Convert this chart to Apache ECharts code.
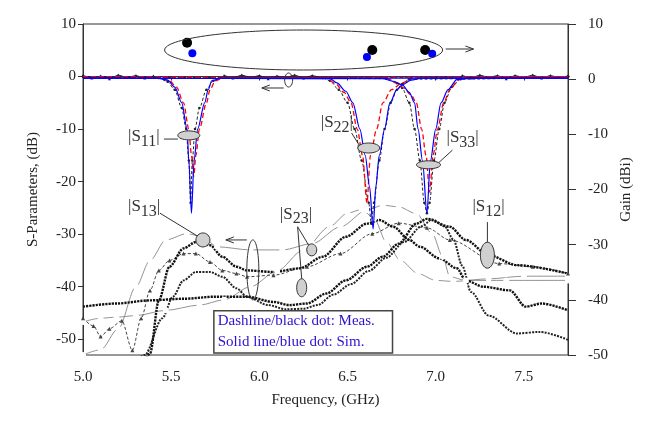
<!DOCTYPE html>
<html>
<head>
<meta charset="utf-8">
<script src="https://cdn.jsdelivr.net/npm/echarts@6/dist/echarts.min.js"></script>
<style>
  html, body { margin: 0; padding: 0; background: #fff; }
  #chart { width: 650px; height: 426px; }
</style>
</head>
<body>
<div id="chart"></div>
<script>
const FONT = 'Liberation Serif';

// axis ticks
const freqTicks = [5.0, 5.5, 6.0, 6.5, 7.0, 7.5];
const sTicks = [-50, -40, -30, -20, -10, 0, 10];

// reflection, simulated (blue solid)
const s11Sim = [[5.0,-0.3],[5.42,-0.3],[5.48,-0.7],[5.52,-2],[5.56,-5],[5.59,-10],[5.60,-16],[5.615,-26],[5.63,-16],[5.65,-10],[5.69,-5],[5.71,-2.5],[5.73,-0.8],[5.78,-0.3],[7.75,-0.3]];
const s22Sim = [[5.0,-0.3],[6.40,-0.4],[6.44,-1.2],[6.49,-2.8],[6.53,-5],[6.57,-10],[6.60,-15],[6.625,-21],[6.645,-29],[6.66,-21],[6.68,-15],[6.71,-10],[6.74,-5],[6.78,-2.5],[6.81,-1.6],[6.86,-0.7],[6.92,-0.3],[7.75,-0.3]];
const s33Sim = [[5.0,-0.3],[6.70,-0.4],[6.76,-0.9],[6.81,-1.6],[6.85,-3],[6.88,-5],[6.90,-10],[6.925,-16],[6.95,-26],[6.97,-16],[7.0,-10],[7.03,-5],[7.07,-2.5],[7.12,-0.6],[7.2,-0.3],[7.75,-0.3]];

// reflection, measured (red dashed)
const s11Meas = [[5.0,0],[5.44,-0.3],[5.49,-0.8],[5.53,-2],[5.57,-5],[5.60,-10],[5.615,-15],[5.628,-19],[5.64,-15],[5.66,-10],[5.70,-5],[5.72,-2.5],[5.75,-0.8],[5.8,-0.2],[7.75,0]];
const s22Meas = [[5.0,0],[6.38,-0.3],[6.43,-1.3],[6.48,-3],[6.52,-5],[6.555,-10],[6.585,-15],[6.61,-24],[6.63,-15],[6.665,-10],[6.7,-5],[6.75,-2.5],[6.81,-1.2],[6.87,-0.3],[7.75,0]];
const s33Meas = [[5.0,0],[6.72,-0.3],[6.78,-1.2],[6.82,-2.2],[6.86,-3.5],[6.89,-5],[6.92,-10],[6.945,-15],[6.965,-22],[6.985,-15],[7.01,-10],[7.045,-5],[7.08,-2.5],[7.13,-0.6],[7.2,0],[7.75,0]];

// reflection, measured (black dash-dot)
const s11Meas2 = [[5.0,0],[5.43,-0.3],[5.48,-1],[5.52,-2.5],[5.56,-6],[5.585,-10],[5.6,-16],[5.61,-24],[5.62,-16],[5.635,-10],[5.66,-6],[5.7,-2.5],[5.74,-0.8],[5.8,-0.2],[7.75,0]];
const s22Meas2 = [[5.0,0],[6.36,-0.3],[6.40,-0.8],[6.45,-2.5],[6.50,-5],[6.54,-10],[6.58,-16],[6.62,-24],[6.635,-28],[6.65,-24],[6.68,-16],[6.71,-10],[6.745,-5],[6.78,-2.5],[6.81,-1.4],[6.85,-0.5],[7.75,0]];
const s33Meas2 = [[5.0,0],[6.72,-0.4],[6.78,-1.3],[6.81,-2.2],[6.85,-5],[6.88,-10],[6.91,-16],[6.935,-24],[6.95,-26],[6.965,-24],[6.99,-16],[7.02,-10],[7.05,-5],[7.09,-2],[7.14,-0.5],[7.75,0]];

const baseNoise = [[5.00,0.2],[5.05,-0.3],[5.10,0.1],[5.15,-0.4],[5.20,0.3],[5.25,-0.2],[5.30,0.2],[5.35,-0.3],[5.40,0.1],[null,null],
  [5.80,0.2],[5.85,-0.3],[5.90,0.3],[5.95,-0.2],[6.00,0.2],[6.05,-0.4],[6.10,0.1],[6.15,-0.2],[6.20,0.3],[6.25,-0.3],[6.30,0.2],[6.35,-0.2],[null,null],
  [7.15,0.2],[7.20,-0.3],[7.25,0.3],[7.30,-0.2],[7.35,0.2],[7.40,-0.4],[7.45,0.2],[7.50,-0.2],[7.55,0.3],[7.60,-0.3],[7.65,0.2],[7.70,-0.2],[7.75,0.1]];

// transmission curves
const s13A = [[5.30,-60],[5.38,-52.7],[5.43,-42.6],[5.49,-36.2],[5.57,-32.7],[5.64,-31.5],[5.72,-32.1],[5.79,-34.3],[5.87,-36.2],[5.93,-36.9],[6.08,-37.2],[6.23,-36.5],[6.36,-34.3],[6.49,-30.5],[6.61,-28.0],[6.68,-27.3],[6.76,-28.6],[6.85,-31.1],[6.91,-32.4],[7.02,-34.6],[7.12,-36.5],[7.17,-38.8],[7.27,-40.0],[7.42,-40.7],[7.51,-43.8],[7.60,-43.2],[7.75,-44.5]];
const s12A = [[5.0,-43.8],[5.19,-43.2],[5.38,-42.6],[5.57,-42.3],[5.75,-41.9],[5.93,-41.9],[6.08,-42.9],[6.17,-43.5],[6.27,-43.2],[6.38,-41.3],[6.49,-38.8],[6.61,-36.2],[6.70,-34.3],[6.79,-31.8],[6.89,-28.0],[6.95,-27.1],[7.08,-28.6],[7.17,-31.1],[7.30,-34.0],[7.46,-35.9],[7.75,-37.5]];
const s23A = [[5.2,-60],[5.35,-53],[5.45,-46],[5.51,-41.9],[5.57,-38.8],[5.64,-37.2],[5.72,-37.2],[5.79,-38.1],[5.87,-40.3],[5.93,-41.9],[6.05,-43.5],[6.15,-44.3],[6.25,-44.2],[6.33,-43.5],[6.42,-41.5],[6.52,-39.5],[6.62,-37],[6.72,-34.5],[6.82,-31.5],[6.92,-28.5],[6.98,-27.2],[7.05,-28.5],[7.1,-31],[7.15,-36],[7.2,-41],[7.3,-45.5],[7.46,-48.9],[7.59,-48.6],[7.75,-50.1]];
const s23B = [[5.0,-46],[5.06,-47.5],[5.1,-49.5],[5.15,-48],[5.22,-46.5],[5.28,-52.1],[5.33,-46],[5.38,-40.7],[5.43,-36.9],[5.49,-35.0],[5.57,-33.7],[5.64,-33.7],[5.72,-35.3],[5.79,-36.9],[5.87,-37.5],[5.93,-38.1],[6.08,-37.8],[6.27,-36.2],[6.46,-33.7],[6.64,-29.9],[6.79,-27.9],[6.95,-28.8],[7.08,-31.1],[7.36,-35.6],[7.55,-36.2],[7.75,-37.5]];
const s13B = [[5.0,-53],[5.1,-52],[5.2,-48],[5.3,-40],[5.38,-35],[5.47,-31.1],[5.59,-29.9],[5.68,-30.5],[5.76,-32.4],[5.95,-33],[6.13,-33],[6.3,-31.8],[6.46,-28.6],[6.61,-25.4],[6.7,-24.5],[6.79,-24.8],[6.89,-26.1],[6.98,-29.9],[7.04,-34.3],[7.08,-38.1],[7.17,-38.8],[7.4,-38.8],[7.75,-38.8]];
const s12B = [[5.0,-46.7],[5.1,-46],[5.19,-45.8],[5.3,-45.5],[5.47,-44.5],[5.66,-43.5],[5.8,-42.5],[5.95,-40],[6.1,-37],[6.25,-33],[6.4,-28.5],[6.5,-26],[6.58,-25.3],[6.65,-27],[6.72,-31.5],[6.8,-35],[6.9,-37.5],[7.0,-38.8],[7.1,-39],[7.3,-38.5],[7.5,-38],[7.75,-38]];

// peak gain (dBi), right axis
const gainMeas = [[5.59,6.6],[6.64,5.3],[6.94,5.3]];
const gainSim = [[5.62,4.7],[6.61,4.0],[6.98,4.6]];

const chart = echarts.init(document.getElementById('chart'));

function line(data, color, width, type, extra) {
  return Object.assign({
    type: 'line',
    data: data,
    smooth: 0.3,
    smoothMonotone: 'x',
    showSymbol: false,
    symbol: 'none',
    connectNulls: false,
    lineStyle: { color: color, width: width, type: type },
    itemStyle: { color: color },
    z: 3
  }, extra || {});
}

const axisText = { fontFamily: FONT, fontSize: 15, color: '#222' };

const option = {
  animation: false,
  backgroundColor: '#fff',
  grid: { left: 83, right: 82, top: 24, bottom: 71, show: true, borderColor: '#333', borderWidth: 1 },
  xAxis: {
    type: 'value', min: 5.0, max: 7.75,
    name: 'Frequency, (GHz)', nameLocation: 'middle', nameGap: 38,
    nameTextStyle: axisText,
    axisLine: { lineStyle: { color: '#333', width: 1 } },
    axisTick: { customValues: freqTicks, length: 4, lineStyle: { color: '#333' } },
    axisLabel: Object.assign({ customValues: freqTicks, margin: 15, formatter: v => v.toFixed(1) }, axisText),
    splitLine: { show: false }
  },
  yAxis: [{
    type: 'value', min: -53, max: 10, position: 'left',
    name: 'S-Parameters, (dB)', nameLocation: 'middle', nameGap: 42, nameRotate: 90,
    nameTextStyle: axisText,
    axisLine: { show: true, lineStyle: { color: '#333', width: 1 } },
    axisTick: { show: true, customValues: sTicks, length: 5, lineStyle: { color: '#333' } },
    axisLabel: Object.assign({ customValues: sTicks, margin: 7 }, axisText),
    splitLine: { show: false }
  }, {
    type: 'value', min: -50, max: 10, interval: 10, position: 'right',
    name: 'Gain (dBi)', nameLocation: 'middle', nameGap: 40, nameRotate: 90,
    nameTextStyle: axisText,
    axisLine: { show: true, lineStyle: { color: '#333', width: 1 } },
    axisTick: { show: true, length: 8, lineStyle: { color: '#333' } },
    axisLabel: Object.assign({ margin: 20 }, axisText),
    splitLine: { show: false }
  }],
  series: [
    line(s13B, '#777', 0.8, 'solid', { showSymbol: true, symbol: 'emptyCircle', symbolSize: 4, itemStyle: { color: '#fff', borderColor: '#222', borderWidth: 0.8 } }),
    line(s12B, '#777', 0.8, 'solid', { showSymbol: true, symbol: 'emptyCircle', symbolSize: 4, itemStyle: { color: '#fff', borderColor: '#222', borderWidth: 0.8 } }),
    line(s23B, '#444', 1, [3, 2], { showSymbol: true, symbol: 'triangle', symbolSize: 4 }),
    line(s23A, '#222', 2, [2, 1.2]),
    line(s12A, '#111', 2.4, [2.2, 1]),
    line(s13A, '#111', 2.4, [2.2, 1]),
    line(baseNoise, '#222', 1, 'solid', { smooth: false, showSymbol: true, symbol: 'triangle', symbolSize: 3 }),
    line(s11Meas2, '#222', 1, [3, 2], { showSymbol: true, symbol: 'circle', symbolSize: 2.5, z: 4 }),
    line(s22Meas2, '#222', 1, [3, 2], { showSymbol: true, symbol: 'circle', symbolSize: 2.5, z: 4 }),
    line(s33Meas2, '#222', 1, [3, 2], { showSymbol: true, symbol: 'circle', symbolSize: 2.5, z: 4 }),
    line(s11Meas, '#ff0000', 1.3, [5, 3], { z: 5 }),
    line(s22Meas, '#ff0000', 1.3, [5, 3], { z: 5 }),
    line(s33Meas, '#ff0000', 1.3, [5, 3], { z: 5 }),
    line(s11Sim, '#0000ff', 1.2, 'solid', { z: 6 }),
    line(s22Sim, '#0000ff', 1.2, 'solid', { z: 6 }),
    line(s33Sim, '#0000ff', 1.2, 'solid', { z: 6 }),
    { type: 'scatter', yAxisIndex: 1, data: gainMeas, symbol: 'circle', symbolSize: 10, itemStyle: { color: '#000', opacity: 1 }, z: 7 },
    { type: 'scatter', yAxisIndex: 1, data: gainSim, symbol: 'circle', symbolSize: 8, itemStyle: { color: '#0000ff', opacity: 1 }, z: 8 }
  ]
};

chart.setOption(option);

// annotations, anchored in data coordinates (GHz, dB)
const P = (f, db) => chart.convertToPixel({ xAxisIndex: 0, yAxisIndex: 0 }, [f, db]);
const ctx = document.createElement('canvas').getContext('2d');
function tw(t, size) { ctx.font = size + 'px "' + FONT + '"'; return ctx.measureText(t).width; }

const ink = '#333';
const g = [];
function ellipse(f, db, rx, ry, fill) {
  const p = P(f, db);
  g.push({ type: 'ellipse', shape: { cx: p[0], cy: p[1], rx: rx, ry: ry }, style: { fill: fill || 'none', stroke: ink, lineWidth: 1 }, z: 20 });
}
function seg(f1, d1, f2, d2) {
  const a = P(f1, d1), b = P(f2, d2);
  g.push({ type: 'line', shape: { x1: a[0], y1: a[1], x2: b[0], y2: b[1] }, style: { stroke: ink, lineWidth: 1 }, z: 20 });
}
function arrow(f1, d1, f2, d2) {
  const a = P(f1, d1), b = P(f2, d2);
  const dir = Math.sign(b[0] - a[0]);
  g.push({ type: 'line', shape: { x1: a[0], y1: a[1], x2: b[0], y2: b[1] }, style: { stroke: ink, lineWidth: 1 }, z: 20 });
  g.push({ type: 'polyline', shape: { points: [[b[0] - dir * 8, b[1] - 3], [b[0], b[1]], [b[0] - dir * 8, b[1] + 3]] }, style: { stroke: ink, fill: 'none', lineWidth: 1 }, z: 20 });
}
function txt(x, y, t, size, color) {
  g.push({ type: 'text', style: { x: x, y: y, text: t, font: size + 'px "' + FONT + '"', fill: color, textAlign: 'left', verticalAlign: 'middle', textVerticalAlign: 'middle' }, z: 21 });
}
function sLabel(f, db, sub) {
  const p = P(f, db);
  const w1 = tw('|S', 17), w2 = tw(sub, 16);
  txt(p[0], p[1], '|S', 17, ink);
  txt(p[0] + w1, p[1] + 5, sub, 16, ink);
  txt(p[0] + w1 + w2, p[1], '|', 17, ink);
}

// gain group
ellipse(6.251, 5.05, 139, 20);
arrow(7.056, 5.24, 7.214, 5.24);
// reflection group marker
ellipse(6.166, -0.66, 4, 7);
arrow(6.138, -2.18, 6.014, -2.18);

sLabel(5.255, -11.5, '11');
seg(5.459, -11.9, 5.538, -11.9);
ellipse(5.600, -11.2, 11, 4.5, '#d0d0d0');

sLabel(6.348, -8.84, '22');
seg(6.523, -10.75, 6.569, -13.2);
ellipse(6.620, -13.6, 11, 5, '#d0d0d0');

sLabel(7.061, -11.7, '33');
seg(7.095, -14.0, 7.01, -16.6);
ellipse(6.959, -16.8, 12, 4, '#d0d0d0');

sLabel(5.255, -24.8, '13');
seg(5.436, -26.0, 5.651, -30.4);
ellipse(5.680, -31.1, 7, 7, '#d0d0d0');

sLabel(6.116, -26.2, '23');
seg(6.217, -28.6, 6.285, -32.4);
seg(6.217, -28.6, 6.240, -38.5);
ellipse(6.297, -33.0, 5, 6, '#d0d0d0');
ellipse(6.240, -40.2, 5, 9, '#d0d0d0');

sLabel(7.208, -24.8, '12');
seg(7.293, -27.7, 7.293, -31.7);
ellipse(7.293, -34.0, 7, 13, '#d0d0d0');

// transmission group marker
ellipse(5.963, -36.8, 6, 30);
arrow(5.929, -31.1, 5.81, -31.1);

// note box
const b1 = P(5.742, -44.6), b2 = P(6.755, -52.6);
g.push({ type: 'rect', shape: { x: b1[0], y: b1[1], width: b2[0] - b1[0], height: b2[1] - b1[1] }, style: { fill: '#fff', stroke: '#444', lineWidth: 1.5 }, z: 22 });
const t1 = P(5.764, -46.6), t2 = P(5.764, -50.6);
g.push({ type: 'text', style: { x: t1[0], y: t1[1], text: 'Dashline/black dot: Meas.', font: '15px "' + FONT + '"', fill: '#3010d0', verticalAlign: 'middle', textVerticalAlign: 'middle' }, z: 23 });
g.push({ type: 'text', style: { x: t2[0], y: t2[1], text: 'Solid line/blue dot: Sim.', font: '15px "' + FONT + '"', fill: '#3010d0', verticalAlign: 'middle', textVerticalAlign: 'middle' }, z: 23 });

chart.setOption({ graphic: g });
</script>
</body>
</html>
